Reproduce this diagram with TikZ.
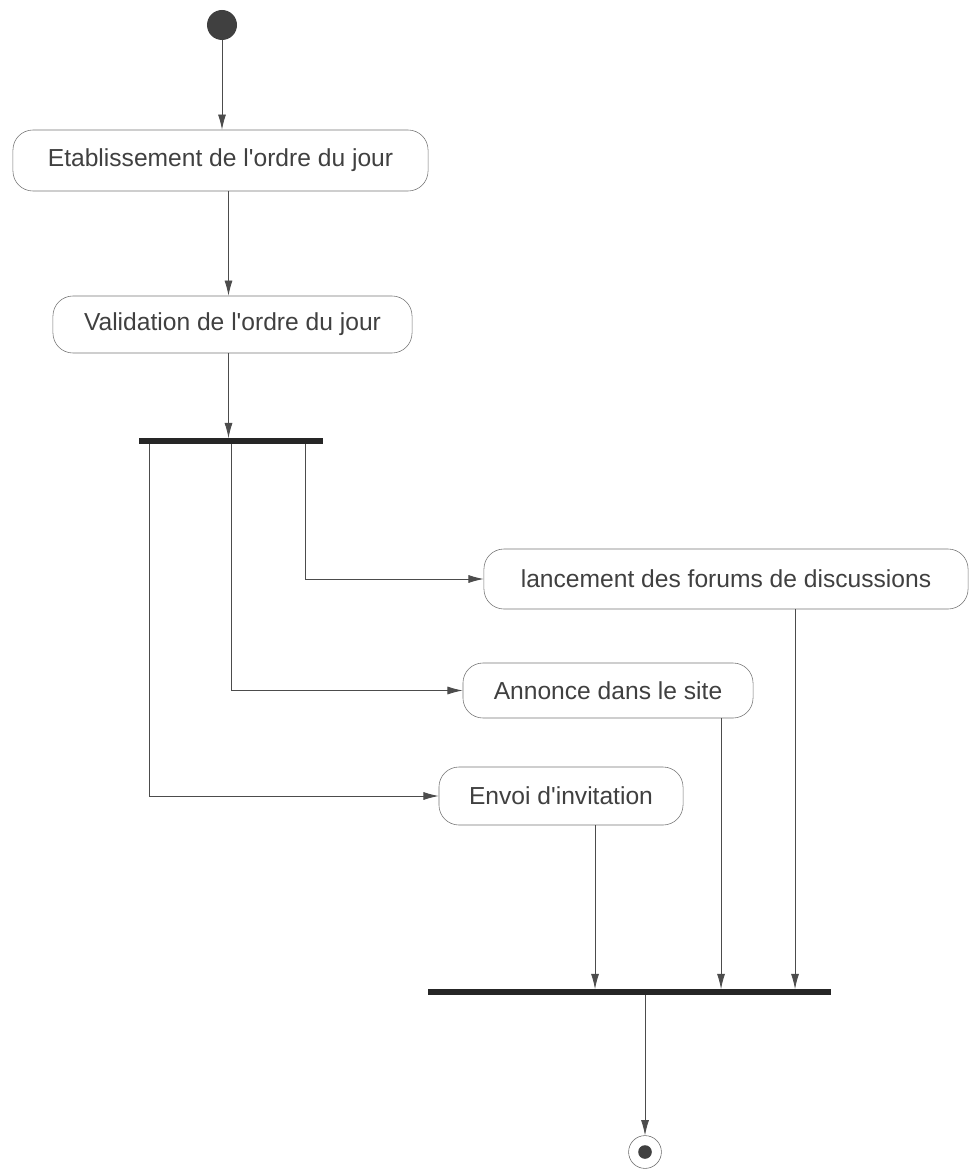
\documentclass[tikz,border=0pt]{standalone}
\usepackage{fontspec}
\setmainfont{Liberation Sans}
\usepackage{tikz}
\usetikzlibrary{arrows.meta}

\tikzset{
  act/.style={draw=black!55, rounded corners=.5cm, inner sep=0pt, text=black!75,
    font=\fontsize{17.5}{20}\selectfont},
  bar/.style={fill=black!85, inner sep=0pt, minimum height=.13cm},
  flow/.style={draw=black!70, line width=.6pt, -{Latex[length=.38cm,width=.2cm]}},
  startnode/.style={circle, fill=black!75, inner sep=0pt, minimum size=.75cm},
  endnode/.style={circle, draw=black!60, inner sep=0pt, minimum size=.82cm,
    path picture={\fill[black!75] (path picture bounding box.center) circle (.17cm);}}
}

\begin{document}
\begin{tikzpicture}[x=.025cm,y=-.025cm]
   \useasboundingbox (0,0) rectangle (971,1169);
   % start
   \node[startnode] (init) at (222,25) {};
   \node[act, minimum width=10.375cm, minimum height=1.525cm] (etab) at (220.5,160.5)
      {Etablissement de l\textquotesingle ordre du jour};
   \node[act, minimum width=8.975cm, minimum height=1.425cm] (valid) at (232.5,324.5)
      {Validation de l\textquotesingle ordre du jour};
   \draw[flow] (init) -- (init |- etab.north);
   \draw[flow] ([xshift=-.1cm]etab.south -| valid) -- ([xshift=-.1cm]valid.north);
   % fork
   \node[bar, minimum width=4.6cm] (fork) at (231,441) {};
   \draw[flow] ([xshift=-.1cm]valid.south) -- ([xshift=-.1cm]valid.south |- fork.north);
   \node[act, minimum width=12.1cm, minimum height=1.5cm] (lanc) at (726,579)
      {lancement des forums de discussions};
   \node[act, minimum width=7.25cm, minimum height=1.375cm] (annonce) at (608,690.5)
      {Annonce dans le site};
   \node[act, minimum width=6.1cm, minimum height=1.45cm] (envoi) at (561,796)
      {Envoi d\textquotesingle invitation};
   \draw[flow] ([xshift=-.45cm]fork.south east) |- (lanc.west);
   \draw[flow] (fork.south) |- (annonce.west);
   \draw[flow] ([xshift=.275cm]fork.south west) |- (envoi.west);
   % join
   \node[bar, minimum width=10.075cm] (join) at (629.5,992) {};
   \draw[flow] ([xshift=.85cm]envoi.south) -- ([xshift=.85cm]envoi.south |- join.north);
   \draw[flow] ([xshift=2.825cm]annonce.south) -- ([xshift=2.825cm]annonce.south |- join.north);
   \draw[flow] ([xshift=1.725cm]lanc.south) -- ([xshift=1.725cm]lanc.south |- join.north);
   % end
   \node[endnode] (final) at (645,1152) {};
   \draw[flow] (join.south -| final) -- (final.north);
\end{tikzpicture}
\end{document}
